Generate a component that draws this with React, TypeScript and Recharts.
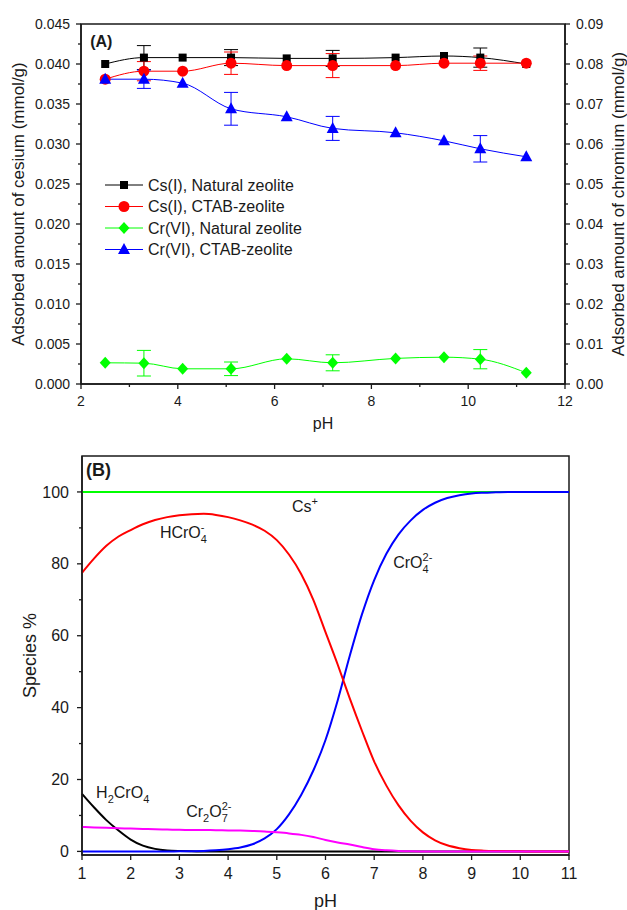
import React from "react";
import {
  ErrorBar,
  Legend,
  Line,
  LineChart,
  ReferenceArea,
  ReferenceDot,
  XAxis,
  YAxis,
} from "recharts";

const FONT = "Arial, 'Liberation Sans', sans-serif";
const INK = "#1a1a1a";

// ---- Panel A: adsorbed amount vs pH ----
const PH_A = [2.5, 3.3, 4.1, 5.1, 6.25, 7.2, 8.5, 9.5, 10.25, 11.2];
const CS_NATURAL = [0.04, 0.0408, 0.0408, 0.0408, 0.0407, 0.0407, 0.0408, 0.041, 0.0408, 0.04];
const CS_NATURAL_ERR = [null, 0.0015, null, 0.001, null, 0.001, null, null, 0.0012, null];
const CS_CTAB = [0.0381, 0.0391, 0.0391, 0.0401, 0.0398, 0.0398, 0.0398, 0.0401, 0.0401, 0.0401];
const CS_CTAB_ERR = [null, 0.0012, null, 0.0014, null, 0.0015, null, null, 0.0009, null];
const CR_NATURAL = [0.0053, 0.0052, 0.0038, 0.0038, 0.0063, 0.0053, 0.0064, 0.0067, 0.0062, 0.0028];
const CR_NATURAL_ERR = [null, 0.0032, null, 0.0017, null, 0.002, null, null, 0.0024, null];
const CR_CTAB = [0.0762, 0.0762, 0.0752, 0.0688, 0.0668, 0.0639, 0.0628, 0.0608, 0.0588, 0.0568];
const CR_CTAB_ERR = [null, 0.0023, null, 0.0041, null, 0.003, null, null, 0.0033, null];

const A_X_TICKS = [2, 3, 4, 5, 6, 7, 8, 9, 10, 11, 12];
const A_CS_TICKS = [
  0, 0.0025, 0.005, 0.0075, 0.01, 0.0125, 0.015, 0.0175, 0.02, 0.0225,
  0.025, 0.0275, 0.03, 0.0325, 0.035, 0.0375, 0.04, 0.0425, 0.045,
];
const A_CR_TICKS = [
  0, 0.005, 0.01, 0.015, 0.02, 0.025, 0.03, 0.035, 0.04, 0.045,
  0.05, 0.055, 0.06, 0.065, 0.07, 0.075, 0.08, 0.085, 0.09,
];

// ---- Panel B: species distribution ----
const PH_B = [
  1, 1.25, 1.5, 1.75, 2, 2.25, 2.5, 2.75, 3, 3.25,
  3.5, 3.75, 4, 4.25, 4.5, 4.75, 5, 5.25, 5.5, 5.75,
  6, 6.25, 6.5, 6.75, 7, 7.25, 7.5, 7.75, 8, 8.25,
  8.5, 8.75, 9, 9.25, 9.5, 9.75, 10, 10.25, 10.5, 10.75,
  11,
];
const CS_PLUS = [
  100, 100, 100, 100, 100, 100, 100, 100, 100, 100,
  100, 100, 100, 100, 100, 100, 100, 100, 100, 100,
  100, 100, 100, 100, 100, 100, 100, 100, 100, 100,
  100, 100, 100, 100, 100, 100, 100, 100, 100, 100,
  100,
];
const H2CRO4 = [
  16, 12.2, 8.7, 5.8, 3.3, 1.6, 0.7, 0.25, 0.08, 0.02,
  0, 0, 0, 0, 0, 0, 0, 0, 0, 0,
  0, 0, 0, 0, 0, 0, 0, 0, 0, 0,
  0, 0, 0, 0, 0, 0, 0, 0, 0, 0,
  0,
];
const HCRO4 = [
  77.5, 81.5, 85, 87.6, 89.4, 91, 92.2, 93, 93.5, 93.8,
  93.9, 93.6, 93, 92.1, 90.9, 89.2, 86.6, 82.6, 77.2, 70,
  61, 52, 42.5, 33.5, 25, 18.3, 12.8, 8.5, 5.3, 3.1,
  1.7, 0.9, 0.4, 0.2, 0.1, 0.05, 0.02, 0, 0, 0,
  0,
];
const CRO4 = [
  0, 0, 0, 0, 0, 0, 0, 0, 0.02, 0.05,
  0.12, 0.3, 0.6, 1.1, 2, 3.6, 6.2, 10.3, 15.7, 22.5,
  31, 42, 54.5, 66, 75.5, 82.8, 88.2, 92.1, 95, 97,
  98.3, 99.1, 99.6, 99.8, 99.9, 100, 100, 100, 100, 100,
  100,
];
const CR2O7 = [
  6.8, 6.65, 6.55, 6.45, 6.35, 6.25, 6.15, 6.1, 6.0, 5.98,
  5.95, 5.9, 5.85, 5.8, 5.7, 5.55, 5.3, 5.0, 4.6, 4.0,
  3.2, 2.5, 1.9, 1.2, 0.6, 0.3, 0.12, 0.04, 0, 0,
  0, 0, 0, 0, 0, 0, 0, 0, 0, 0,
  0,
];

const B_X_TICKS = [1, 2, 3, 4, 5, 6, 7, 8, 9, 10, 11];
const B_Y_TICKS = [0, 10, 20, 30, 40, 50, 60, 70, 80, 90, 100];

type MarkerShape = "square" | "circle" | "diamond" | "triangle";

const SERIES_A = [
  { key: "csNat", label: "Cs(I), Natural zeolite", color: "#000000", shape: "square" as MarkerShape, axis: "cs" },
  { key: "csCtab", label: "Cs(I), CTAB-zeolite", color: "#ff0000", shape: "circle" as MarkerShape, axis: "cs" },
  { key: "crNat", label: "Cr(VI), Natural zeolite", color: "#00ff00", shape: "diamond" as MarkerShape, axis: "cr" },
  { key: "crCtab", label: "Cr(VI), CTAB-zeolite", color: "#0000ff", shape: "triangle" as MarkerShape, axis: "cr" },
];

const rowsA = PH_A.map((ph, i) => ({
  ph,
  csNat: CS_NATURAL[i],
  csNatErr: CS_NATURAL_ERR[i],
  csCtab: CS_CTAB[i],
  csCtabErr: CS_CTAB_ERR[i],
  crNat: CR_NATURAL[i],
  crNatErr: CR_NATURAL_ERR[i],
  crCtab: CR_CTAB[i],
  crCtabErr: CR_CTAB_ERR[i],
}));

const rowsB = PH_B.map((ph, i) => ({
  ph,
  cs: CS_PLUS[i],
  h2: H2CRO4[i],
  hcro4: HCRO4[i],
  cro4: CRO4[i],
  cr2o7: CR2O7[i],
}));

function Marker({ cx, cy, shape, color }: { cx: number; cy: number; shape: MarkerShape; color: string }) {
  if (cx == null || cy == null) return null;
  if (shape === "square") return <rect x={cx - 4} y={cy - 4} width={8} height={8} fill={color} />;
  if (shape === "circle") return <circle cx={cx} cy={cy} r={5.5} fill={color} />;
  if (shape === "diamond")
    return <polygon points={`${cx},${cy - 6} ${cx + 5.5},${cy} ${cx},${cy + 6} ${cx - 5.5},${cy}`} fill={color} />;
  return <polygon points={`${cx},${cy - 6.5} ${cx + 6},${cy + 4.5} ${cx - 6},${cy + 4.5}`} fill={color} />;
}

// tick with its own tick line: long on even (major) entries, short on odd (minor) ones
function makeTick(side: "left" | "right" | "bottom", fmt: (v: number) => string, fontSize: number, gap: number, allMajor = false) {
  return (p: any) => {
    const major = allMajor || p.index % 2 === 0;
    const len = major ? 5 : 3;
    const { x, y } = p;
    const v = p.payload.value;
    if (side === "left")
      return (
        <g>
          <line x1={x} x2={x - len} y1={y} y2={y} stroke={INK} strokeWidth={1.3} />
          {major && (
            <text x={x - 5 - gap} y={y} dy="0.35em" textAnchor="end" fontSize={fontSize} fill={INK} fontFamily={FONT}>
              {fmt(v)}
            </text>
          )}
        </g>
      );
    if (side === "right")
      return (
        <g>
          <line x1={x} x2={x + len} y1={y} y2={y} stroke={INK} strokeWidth={1.3} />
          {major && (
            <text x={x + 5 + gap} y={y} dy="0.35em" textAnchor="start" fontSize={fontSize} fill={INK} fontFamily={FONT}>
              {fmt(v)}
            </text>
          )}
        </g>
      );
    return (
      <g>
        <line x1={x} x2={x} y1={y} y2={y + len} stroke={INK} strokeWidth={1.3} />
        {major && (
          <text x={x} y={y + 5 + gap} dy="0.75em" textAnchor="middle" fontSize={fontSize} fill={INK} fontFamily={FONT}>
            {fmt(v)}
          </text>
        )}
      </g>
    );
  };
}

function LegendA() {
  return (
    <svg width={220} height={92} style={{ display: "block" }}>
      {SERIES_A.map((s, i) => {
        const cy = 11 + i * 21.5;
        return (
          <g key={s.key}>
            <line x1={5} x2={43} y1={cy} y2={cy} stroke={s.color} strokeWidth={1} />
            <Marker cx={24} cy={cy} shape={s.shape} color={s.color} />
            <text x={48} y={cy} dy="0.35em" fontSize={16} fill={INK} fontFamily={FONT}>
              {s.label}
            </text>
          </g>
        );
      })}
    </svg>
  );
}

const titleStyle = (size: number) => ({ textAnchor: "middle" as const, fontSize: size, fill: INK, fontFamily: FONT });

function PanelA() {
  return (
    <LineChart width={627} height={440} data={rowsA} margin={{ top: 24, right: 0, bottom: 0, left: 0 }}>
      <XAxis
        dataKey="ph"
        type="number"
        domain={[2, 12]}
        ticks={A_X_TICKS}
        interval={0}
        height={56}
        tickSize={0}
        tickMargin={0}
        tickLine={false}
        axisLine={{ stroke: INK, strokeWidth: 1.5 }}
        tick={makeTick("bottom", (v) => String(v), 14, 6)}
        label={{ value: "pH", position: "insideBottom", offset: 11, style: titleStyle(16) }}
      />
      <YAxis
        yAxisId="cs"
        type="number"
        domain={[0, 0.045]}
        ticks={A_CS_TICKS}
        interval={0}
        width={81}
        tickSize={0}
        tickMargin={0}
        tickLine={false}
        axisLine={{ stroke: INK, strokeWidth: 1.5 }}
        tick={makeTick("left", (v) => v.toFixed(3), 14, 6)}
        label={{
          value: "Adsorbed amount of cesium (mmol/g)",
          angle: -90,
          position: "insideLeft",
          offset: 18,
          style: titleStyle(17),
        }}
      />
      <YAxis
        yAxisId="cr"
        orientation="right"
        type="number"
        domain={[0, 0.09]}
        ticks={A_CR_TICKS}
        interval={0}
        width={62}
        tickSize={0}
        tickMargin={0}
        tickLine={false}
        axisLine={{ stroke: INK, strokeWidth: 1.5 }}
        tick={makeTick("right", (v) => v.toFixed(2), 14, 6)}
        label={{
          value: "Adsorbed amount of chromium (mmol/g)",
          angle: -90,
          position: "insideRight",
          offset: 9,
          style: titleStyle(17),
        }}
      />
      <ReferenceArea yAxisId="cs" x1={2} x2={12} y1={0} y2={0.045} fill="none" stroke={INK} strokeWidth={1.5} />
      <ReferenceDot
        yAxisId="cs"
        x={2.19}
        y={0.0421}
        r={0}
        shape={(p: any) => (
          <text x={p.cx} y={p.cy} fontSize={16} fontWeight="bold" fill={INK} fontFamily={FONT}>
            (A)
          </text>
        )}
      />
      {SERIES_A.map((s) => (
        <Line
          key={s.key}
          yAxisId={s.axis}
          dataKey={s.key}
          type="monotone"
          stroke={s.color}
          strokeWidth={1}
          isAnimationActive={false}
          dot={(p: any) => <Marker key={p.index} cx={p.cx} cy={p.cy} shape={s.shape} color={s.color} />}
        >
          <ErrorBar dataKey={`${s.key}Err`} width={7} stroke={s.color} strokeWidth={1} direction="y" />
        </Line>
      ))}
      <Legend
        layout="vertical"
        align="center"
        verticalAlign="middle"
        wrapperStyle={{ left: 100, top: 174, width: 220 }}
        content={() => <LegendA />}
      />
    </LineChart>
  );
}

function Chem({ cx, cy, parts }: { cx: number; cy: number; parts: React.ReactNode }) {
  return (
    <text x={cx} y={cy} fontSize={16} fill={INK} fontFamily={FONT}>
      {parts}
    </text>
  );
}

const SUB = 11;

function PanelB() {
  return (
    <LineChart width={627} height={470} data={rowsB} margin={{ top: 16, right: 58, bottom: 0, left: 0 }}>
      <XAxis
        dataKey="ph"
        type="number"
        domain={[1, 11]}
        ticks={B_X_TICKS}
        interval={0}
        height={55}
        tickSize={0}
        tickMargin={0}
        tickLine={false}
        axisLine={{ stroke: INK, strokeWidth: 1.5 }}
        tick={makeTick("bottom", (v) => String(v), 16, 7, true)}
        label={{ value: "pH", position: "insideBottom", offset: 3, style: titleStyle(18) }}
      />
      <YAxis
        type="number"
        domain={[-1, 110]}
        ticks={B_Y_TICKS}
        interval={0}
        width={82}
        tickSize={0}
        tickMargin={0}
        tickLine={false}
        axisLine={{ stroke: INK, strokeWidth: 1.5 }}
        tick={makeTick("left", (v) => String(v), 16, 8)}
        label={{ value: "Species %", angle: -90, position: "insideLeft", offset: 30, style: titleStyle(18) }}
      />
      <ReferenceArea x1={1} x2={11} y1={-1} y2={110} fill="none" stroke={INK} strokeWidth={1.5} />
      <Line dataKey="cs" type="monotone" stroke="#00ff00" strokeWidth={2} dot={false} isAnimationActive={false} />
      <Line dataKey="h2" type="monotone" stroke="#000000" strokeWidth={2} dot={false} isAnimationActive={false} />
      <Line dataKey="cro4" type="monotone" stroke="#0000ff" strokeWidth={2} dot={false} isAnimationActive={false} />
      <Line dataKey="hcro4" type="monotone" stroke="#ff0000" strokeWidth={2} dot={false} isAnimationActive={false} />
      <Line dataKey="cr2o7" type="monotone" stroke="#ff00ff" strokeWidth={2} dot={false} isAnimationActive={false} />
      <ReferenceDot
        x={1.08}
        y={104.4}
        r={0}
        shape={(p: any) => (
          <text x={p.cx} y={p.cy} fontSize={18} fontWeight="bold" fill={INK} fontFamily={FONT}>
            (B)
          </text>
        )}
      />
      <ReferenceDot
        x={5.31}
        y={94.4}
        r={0}
        shape={(p: any) => (
          <Chem cx={p.cx} cy={p.cy} parts={<>Cs<tspan fontSize={SUB} dy={-7}>+</tspan></>} />
        )}
      />
      <ReferenceDot
        x={2.6}
        y={87.2}
        r={0}
        shape={(p: any) => (
          <Chem
            cx={p.cx}
            cy={p.cy}
            parts={
              <>
                HCrO<tspan fontSize={SUB} dy={-7}>-</tspan>
                <tspan fontSize={SUB} dx={-3.7} dy={12}>4</tspan>
              </>
            }
          />
        )}
      />
      <ReferenceDot
        x={7.39}
        y={78.8}
        r={0}
        shape={(p: any) => (
          <Chem
            cx={p.cx}
            cy={p.cy}
            parts={
              <>
                CrO<tspan fontSize={SUB} dy={-7}>2-</tspan>
                <tspan fontSize={SUB} dx={-9.8} dy={12}>4</tspan>
              </>
            }
          />
        )}
      />
      <ReferenceDot
        x={1.29}
        y={14.9}
        r={0}
        shape={(p: any) => (
          <Chem
            cx={p.cx}
            cy={p.cy}
            parts={
              <>
                H<tspan fontSize={SUB} dy={5}>2</tspan>
                <tspan dy={-5}>CrO</tspan>
                <tspan fontSize={SUB} dy={5}>4</tspan>
              </>
            }
          />
        )}
      />
      <ReferenceDot
        x={3.14}
        y={9.6}
        r={0}
        shape={(p: any) => (
          <Chem
            cx={p.cx}
            cy={p.cy}
            parts={
              <>
                Cr<tspan fontSize={SUB} dy={5}>2</tspan>
                <tspan dy={-5}>O</tspan>
                <tspan fontSize={SUB} dy={-7}>2-</tspan>
                <tspan fontSize={SUB} dx={-9.8} dy={12}>7</tspan>
              </>
            }
          />
        )}
      />
    </LineChart>
  );
}

export default function App() {
  return (
    <div
      style={{
        position: "absolute",
        left: 0,
        top: 0,
        width: 627,
        height: 910,
        background: "#ffffff",
        fontFamily: FONT,
        overflow: "hidden",
      }}
    >
      <div style={{ position: "absolute", left: 0, top: 0 }}>
        <PanelA />
      </div>
      <div style={{ position: "absolute", left: 0, top: 440 }}>
        <PanelB />
      </div>
    </div>
  );
}
